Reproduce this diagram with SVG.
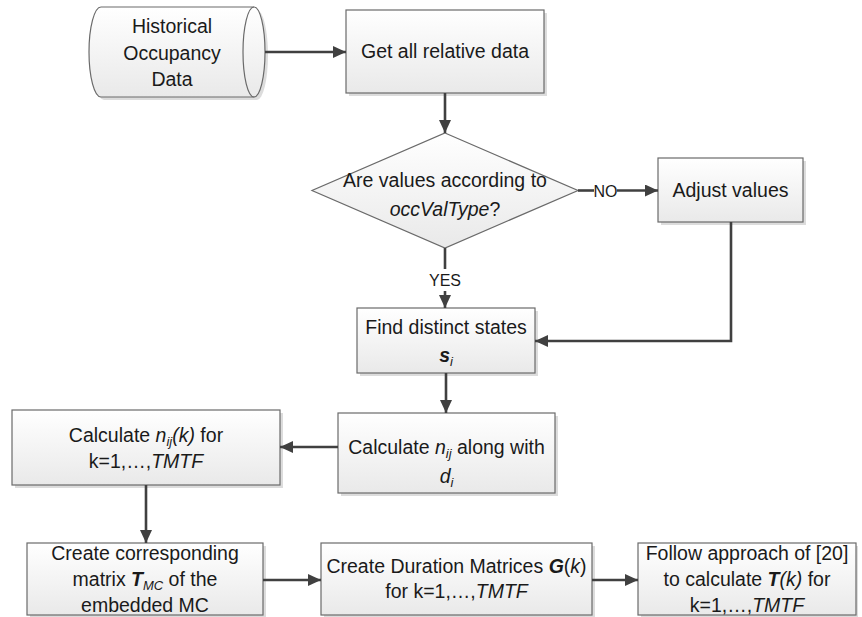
<svg xmlns="http://www.w3.org/2000/svg" width="862" height="617" viewBox="0 0 862 617">
<defs>
<linearGradient id="g" x1="0" y1="0" x2="0" y2="1">
<stop offset="0" stop-color="#ffffff"/>
<stop offset="1" stop-color="#e9e9e9"/>
</linearGradient>
<marker id="ah" markerUnits="userSpaceOnUse" markerWidth="14" markerHeight="12" refX="13" refY="6" orient="auto">
<path d="M0,0 L13,6 L0,12 Z" fill="#404040"/>
</marker>
<style>
.box{fill:url(#g);stroke:#6a6a6a;stroke-width:1.2}
.sh{fill:#dcdcdc}
.t{font-family:"Liberation Sans",Arial,sans-serif;font-size:19.5px;fill:#1a1a1a;text-anchor:middle}
.lab{font-family:"Liberation Sans",Arial,sans-serif;font-size:16px;fill:#1a1a1a;text-anchor:middle}
.c{fill:none;stroke:#404040;stroke-width:2.6}
.i{font-style:italic}
.bi{font-style:italic;font-weight:bold}
.sub{font-size:13px;font-style:italic}
</style>
</defs>
<rect width="862" height="617" fill="#ffffff"/>

<g id="historical">
<path class="sh" d="M104,10 L257,10 A11,45 0 0 1 257,100 L104,100 A12,45 0 0 1 104,10 Z"/>
<path class="box" d="M101,7 L254,7 A11,45 0 0 1 254,97 L101,97 A12,45 0 0 1 101,7 Z"/>
<path d="M254,7 A11,45 0 0 0 254,97" fill="none" stroke="#6a6a6a" stroke-width="1.2"/>
<text class="t" x="172" y="33">Historical</text>
<text class="t" x="172" y="60">Occupancy</text>
<text class="t" x="172" y="86">Data</text>
</g>

<g id="getdata">
<rect class="sh" x="349" y="13" width="198" height="83"/>
<rect class="box" x="346" y="10" width="198" height="83"/>
<text class="t" x="445" y="58">Get all relative data</text>
</g>

<g id="decision">
<path class="box" d="M445,133 L578,190.5 L445,248 L312,190.5 Z"/>
<text class="t" x="445" y="187">Are values according to</text>
<text class="t" x="445" y="216"><tspan class="i">occValType</tspan>?</text>
</g>

<g id="adjust">
<rect class="sh" x="661" y="161" width="145" height="64"/>
<rect class="box" x="658" y="158" width="145" height="64"/>
<text class="t" x="730.5" y="197">Adjust values</text>
</g>

<g id="distinct">
<rect class="sh" x="360" y="311" width="178" height="65"/>
<rect class="box" x="357" y="308" width="178" height="65"/>
<text class="t" x="446" y="334">Find distinct states</text>
<text class="t" x="446" y="362"><tspan class="bi">s</tspan><tspan class="sub" dy="4">i</tspan></text>
</g>

<g id="calcnij">
<rect class="sh" x="341" y="416" width="217" height="80"/>
<rect class="box" x="338" y="413" width="217" height="80"/>
<text class="t" x="446.5" y="454">Calculate <tspan class="i">n</tspan><tspan class="sub" dy="4">ij</tspan><tspan dy="-4"> along with</tspan></text>
<text class="t" x="446.5" y="483"><tspan class="i">d</tspan><tspan class="sub" dy="4">i</tspan></text>
</g>

<g id="calcnijk">
<rect class="sh" x="15" y="413" width="268" height="75"/>
<rect class="box" x="12" y="410" width="268" height="75"/>
<text class="t" x="146" y="442">Calculate <tspan class="i">n</tspan><tspan class="sub" dy="4">ij</tspan><tspan class="i" dy="-4">(k)</tspan> for</text>
<text class="t" x="146" y="468">k=1,…,<tspan class="i">TMTF</tspan></text>
</g>

<g id="createtmc">
<rect class="sh" x="30" y="546" width="236" height="72"/>
<rect class="box" x="27" y="543" width="236" height="72"/>
<text class="t" x="145" y="560">Create corresponding</text>
<text class="t" x="145" y="586">matrix <tspan class="bi">T</tspan><tspan class="sub" dy="4">MC</tspan><tspan dy="-4"> of the</tspan></text>
<text class="t" x="145" y="612">embedded MC</text>
</g>

<g id="duration">
<rect class="sh" x="324" y="546" width="271" height="72"/>
<rect class="box" x="321" y="543" width="271" height="72"/>
<text class="t" x="456.5" y="573">Create Duration Matrices <tspan class="bi">G</tspan>(<tspan class="i">k</tspan>)</text>
<text class="t" x="456.5" y="598">for k=1,…,<tspan class="i">TMTF</tspan></text>
</g>

<g id="follow">
<rect class="sh" x="641" y="546" width="217" height="72"/>
<rect class="box" x="638" y="543" width="218" height="72"/>
<text class="t" x="747" y="560">Follow approach of [20]</text>
<text class="t" x="747" y="586">to calculate <tspan class="bi">T</tspan><tspan class="i">(k)</tspan> for</text>
<text class="t" x="747" y="612">k=1,…,<tspan class="i">TMTF</tspan></text>
</g>

<g id="connectors">
<path class="c" d="M265,52 L346,52" marker-end="url(#ah)"/>
<path class="c" d="M445,93 L445,133" marker-end="url(#ah)"/>
<path class="c" d="M578,190.5 L594,190.5"/>
<path class="c" d="M617,190.5 L658,190.5" marker-end="url(#ah)"/>
<text class="lab" x="605.5" y="196.5">NO</text>
<path class="c" d="M445,248 L445,269"/>
<text class="lab" x="445" y="286">YES</text>
<path class="c" d="M445,291 L445,308" marker-end="url(#ah)"/>
<path class="c" d="M731,222 L731,341 L535,341" marker-end="url(#ah)"/>
<path class="c" d="M446,373 L446,413" marker-end="url(#ah)"/>
<path class="c" d="M338,447 L280,447" marker-end="url(#ah)"/>
<path class="c" d="M146,485 L146,543" marker-end="url(#ah)"/>
<path class="c" d="M263,580 L321,580" marker-end="url(#ah)"/>
<path class="c" d="M592,580 L638,580" marker-end="url(#ah)"/>
</g>
</svg>
